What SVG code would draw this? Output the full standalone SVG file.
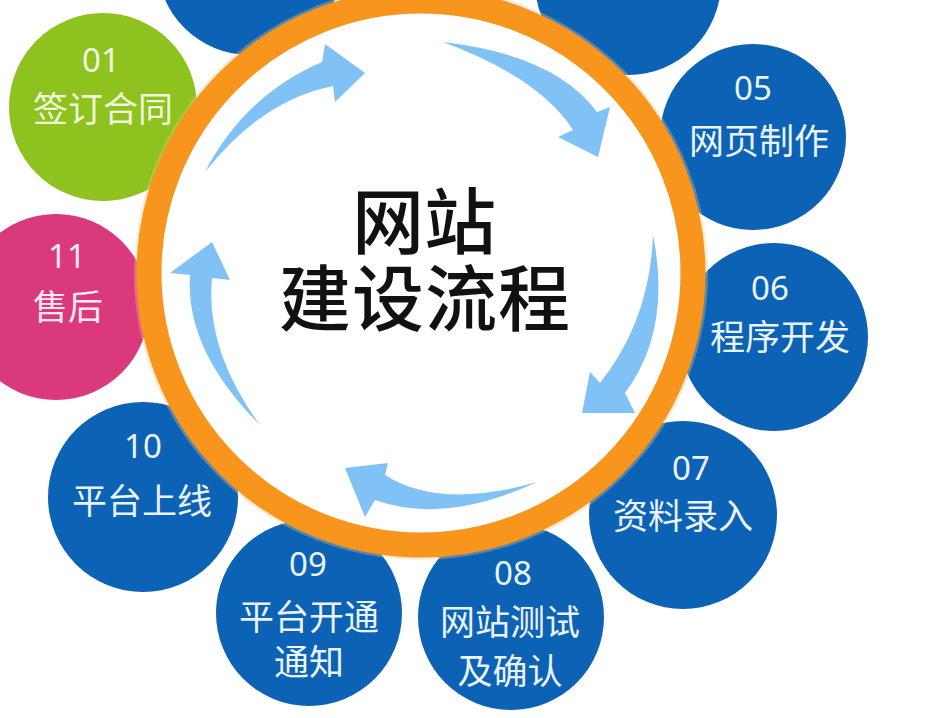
<svg xmlns="http://www.w3.org/2000/svg" width="932" height="718" viewBox="0 0 932 718">
<style>
.blue{fill:#0c62b5}
.green{fill:#8dc21f}
.pink{fill:#da3a7b}
.num{font-family:"Noto Sans","Noto Sans CJK SC",sans-serif;font-size:33px;fill:#eaf2fb;text-anchor:middle}
.lbl{font-family:"Noto Sans CJK SC","Noto Sans",sans-serif;font-size:35px;fill:#eaf2fb;text-anchor:middle}
.title{font-family:"Noto Sans CJK SC",sans-serif;font-size:72px;font-weight:500;fill:#111;text-anchor:middle}
.arrow{fill:#80c1f6}
</style>
<rect width="932" height="718" fill="#ffffff"/>
<g id="node-top-left"><circle class="blue" cx="250" cy="-38" r="93"/></g>
<g id="node-top-right"><circle class="blue" cx="628" cy="-18" r="93"/></g>
<g id="node-01"><circle class="green" cx="103" cy="107" r="94"/>
<text class="num" x="101" y="72" style="fill:#f0f7dd">01</text>
<text class="lbl" x="103" y="122" style="fill:#f0f7dd">签订合同</text></g>
<g id="node-11"><circle class="pink" cx="56" cy="307" r="93"/>
<text class="num" x="67" y="268" style="fill:#fbe8f0">11</text>
<text class="lbl" x="68" y="320" style="fill:#fbe8f0">售后</text></g>
<g id="node-10"><circle class="blue" cx="143" cy="497" r="95"/>
<text class="num" x="143" y="458">10</text>
<text class="lbl" x="142" y="514">平台上线</text></g>
<g id="node-09"><circle class="blue" cx="309" cy="613" r="93"/>
<text class="num" x="308" y="576">09</text>
<text class="lbl" x="309" y="630">平台开通</text>
<text class="lbl" x="309" y="675">通知</text></g>
<g id="node-08"><circle class="blue" cx="511" cy="617" r="93"/>
<text class="num" x="513" y="585">08</text>
<text class="lbl" x="510" y="635">网站测试</text>
<text class="lbl" x="510" y="684">及确认</text></g>
<g id="node-07"><circle class="blue" cx="683" cy="515" r="94"/>
<text class="num" x="691" y="480">07</text>
<text class="lbl" x="683" y="529">资料录入</text></g>
<g id="node-06"><circle class="blue" cx="774" cy="337" r="94"/>
<text class="num" x="770" y="300">06</text>
<text class="lbl" x="780" y="350">程序开发</text></g>
<g id="node-05"><circle class="blue" cx="753" cy="137" r="93"/>
<text class="num" x="753" y="100">05</text>
<text class="lbl" x="759" y="154">网页制作</text></g>
<g id="hub">
<circle cx="421" cy="273" r="284" fill="none" stroke="#f5c98a" stroke-opacity="0.35" stroke-width="6"/>
<circle cx="421" cy="273" r="272" fill="#ffffff" stroke="#f8951d" stroke-width="25"/>
<text class="title" x="424" y="248">网站</text>
<text class="title" x="425" y="325" letter-spacing="1">建设流程</text>
</g>
<g id="connectors">
<path class="arrow" d="M205,172 Q245,95 322,62 L325,44 L365,73 L335,102 L333,86 Q262,100 205,172 Z"/>
<path class="arrow" d="M443,42 Q555,55 597,112 L610,107 L598,157 L558,137 L573,130 Q540,78 443,42 Z"/>
<path class="arrow" d="M653,235 Q672,330 625,393 L635,413 L582,413 L590,372 L600,383 Q650,320 653,235 Z"/>
<path class="arrow" d="M537,482 Q440,510 385,475 L388,463 L345,468 L365,517 L375,500 Q445,525 537,482 Z"/>
<path class="arrow" d="M260,425 Q185,350 190,275 L170,273 L212,242 L230,280 L212,278 Q205,350 260,425 Z"/>
</g>
</svg>
